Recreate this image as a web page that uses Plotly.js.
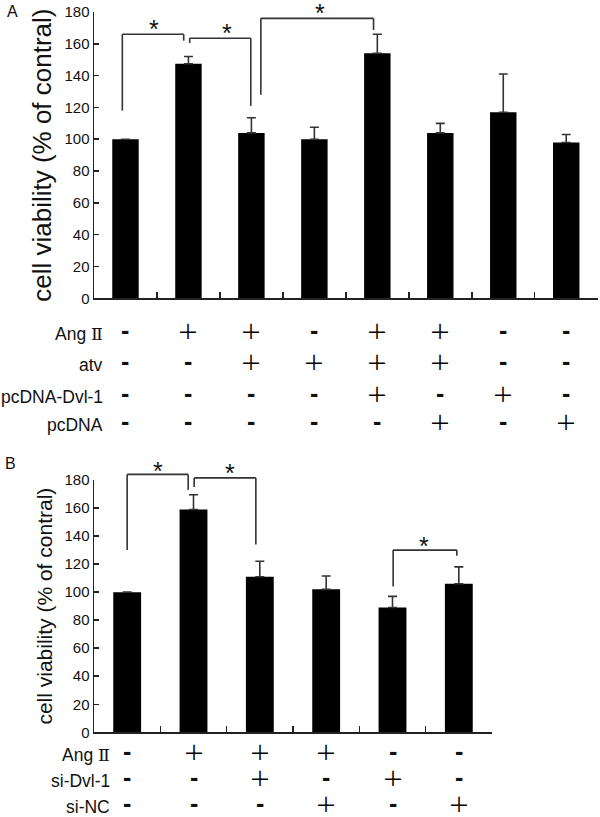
<!DOCTYPE html>
<html>
<head>
<meta charset="utf-8">
<script src="https://cdn.plot.ly/plotly-3.0.1.min.js"></script>
<style>html,body{margin:0;padding:0;background:#fff;}#chart{width:600px;height:817px;}</style>
</head>
<body>
<div id="chart"></div>
<script>
// ---------- Panel A data ----------
var catsA = ['Control', 'Ang II', 'Ang II+atv', 'atv', 'Ang II+atv+pcDNA-Dvl-1', 'Ang II+atv+pcDNA', 'pcDNA-Dvl-1', 'pcDNA'];
var meanA = [100, 147.5, 104, 100, 154, 104, 117, 98];
var errA  = [null, 4.5, 9.5, 7.5, 12, 6, 24, 5];
var rowLabelsA = ['Ang <span style="font-family:\'DejaVu Serif\'">Ⅱ</span>', 'atv', 'pcDNA-Dvl-1', 'pcDNA'];
var signsA = [
  ['-', '+', '+', '-', '+', '+', '-', '-'],
  ['-', '-', '+', '+', '+', '+', '-', '-'],
  ['-', '-', '-', '-', '+', '-', '+', '-'],
  ['-', '-', '-', '-', '-', '+', '-', '+']
];
// significance brackets: [left x, right x, left foot, top, right foot] (x = category index, y = % value)
var bracketsA = [
  [-0.05, 0.925, 118, 166, 162],
  [1.02, 1.99, 160.5, 163.5, 121],
  [2.15, 3.94, 128, 176, 168.7]
];
var starsA = [[0.455, 173], [1.62, 170.5], [3.09, 183]];

// ---------- Panel B data ----------
var catsB = ['Control', 'Ang II', 'Ang II+si-Dvl-1', 'Ang II+si-NC', 'si-Dvl-1', 'si-NC'];
var meanB = [100, 159, 111, 102, 89, 106];
var errB  = [null, 10.5, 11, 9.5, 8, 12];
var rowLabelsB = ['Ang <span style="font-family:\'DejaVu Serif\'">Ⅱ</span>', 'si-Dvl-1', 'si-NC'];
var signsB = [
  ['-', '+', '+', '+', '-', '-'],
  ['-', '-', '+', '-', '+', '-'],
  ['-', '-', '-', '+', '-', '+']
];
var bracketsB = [
  [0.0, 0.92, 130, 184, 173],
  [1.01, 1.94, 175, 181.5, 134],
  [4.01, 4.97, 104, 130, 126]
];
var starsB = [[0.47, 191], [1.55, 189], [4.48, 137]];

var yTicks = [0, 20, 40, 60, 80, 100, 120, 140, 160, 180];
var yMax = 180;

// ---------- layout constants (pixels of a 600 x 817 page) ----------
var W = 600, H = 817;
var FONT = 'Liberation Sans, Arial, sans-serif';
function px(x) { return x / W; }
function py(y) { return 1 - y / H; }
var axisColor = '#222';

function upOnly(arr) { return arr.map(function () { return 0; }); }

var data = [
  {
    type: 'bar', x: catsA, y: meanA, xaxis: 'x', yaxis: 'y', width: 0.42,
    marker: {color: '#000', line: {width: 0}},
    error_y: {type: 'data', array: errA, arrayminus: upOnly(errA), symmetric: false,
              color: '#333', thickness: 1.6, width: 4.5},
    hoverinfo: 'x+y'
  },
  {
    type: 'bar', x: catsB, y: meanB, xaxis: 'x2', yaxis: 'y2', width: 0.42,
    marker: {color: '#000', line: {width: 0}},
    error_y: {type: 'data', array: errB, arrayminus: upOnly(errB), symmetric: false,
              color: '#333', thickness: 1.6, width: 4.5},
    hoverinfo: 'x+y'
  }
];

function xAxis(domain, anchor) {
  return {
    domain: domain, anchor: anchor, type: 'category', tickson: 'boundaries',
    ticks: 'inside', ticklen: 6, tickwidth: 1.5, tickcolor: axisColor,
    showticklabels: false, showline: true, linecolor: axisColor, linewidth: 1.5,
    showgrid: false, zeroline: false, fixedrange: true
  };
}
function yAxis(domain, anchor, titleSize, standoff) {
  return {
    domain: domain, anchor: anchor, range: [0, yMax], tickmode: 'array', tickvals: yTicks,
    ticks: 'inside', ticklen: 5, tickwidth: 1.5, tickcolor: axisColor,
    tickfont: {family: FONT, size: 15, color: '#111'},
    showline: true, linecolor: axisColor, linewidth: 1.5,
    showgrid: false, zeroline: false, fixedrange: true,
    title: {text: 'cell viability (% of contral)', font: {family: FONT, size: titleSize, color: '#111'}, standoff: standoff}
  };
}

var shapes = [];
var annotations = [];

function addBrackets(brs, stars, xr, yr) {
  brs.forEach(function (b) {
    var ln = {color: '#333', width: 1.6};
    shapes.push({type: 'line', xref: xr, yref: yr + ' domain', x0: b[0], x1: b[0], y0: b[2] / yMax, y1: b[3] / yMax, line: ln});
    shapes.push({type: 'line', xref: xr, yref: yr + ' domain', x0: b[0], x1: b[1], y0: b[3] / yMax, y1: b[3] / yMax, line: ln});
    shapes.push({type: 'line', xref: xr, yref: yr + ' domain', x0: b[1], x1: b[1], y0: b[3] / yMax, y1: b[4] / yMax, line: ln});
  });
  stars.forEach(function (s) {
    annotations.push({xref: xr, yref: yr + ' domain', x: s[0], y: s[1] / yMax, text: '*', showarrow: false,
      xanchor: 'center', yanchor: 'middle', yshift: -6, font: {family: FONT, size: 25, color: '#111'}});
  });
}
addBrackets(bracketsA, starsA, 'x', 'y');
addBrackets(bracketsB, starsB, 'x2', 'y2');

function addSignTable(labels, signs, cats, xr, rowY, labelRight, labelDrop) {
  labels.forEach(function (lab, r) {
    annotations.push({xref: 'paper', yref: 'paper', x: px(labelRight), y: py(rowY[r] + labelDrop), xanchor: 'right', yanchor: 'middle',
      height: 20, valign: 'middle',
      text: lab, showarrow: false, font: {family: FONT, size: 17.5, color: '#111'}});
    signs[r].forEach(function (s, c) {
      var plus = s === '+';
      annotations.push({xref: xr, yref: 'paper', x: c, y: py(rowY[r]), xanchor: 'center', yanchor: 'middle',
        height: 18, valign: 'middle',
        showarrow: false, yshift: 1,
        text: plus ? '＋' : '<b>-</b>',
        font: plus ? {family: 'Noto Sans CJK SC, ' + FONT, size: 22, color: '#000'}
                   : {family: FONT, size: 25, color: '#111'}});
    });
  });
}
addSignTable(rowLabelsA, signsA, catsA, 'x', [331, 362, 394, 422], 105, 3);
addSignTable(rowLabelsB, signsB, catsB, 'x2', [752, 778, 804], 112, 3);

annotations.push({xref: 'paper', yref: 'paper', x: px(12), y: py(11), xanchor: 'center', yanchor: 'middle',
  text: 'A', showarrow: false, font: {family: FONT, size: 16, color: '#111'}});
annotations.push({xref: 'paper', yref: 'paper', x: px(10), y: py(463), xanchor: 'center', yanchor: 'middle',
  text: 'B', showarrow: false, font: {family: FONT, size: 16, color: '#111'}});

var layout = {
  width: W, height: H, margin: {l: 0, r: 0, t: 0, b: 0},
  paper_bgcolor: '#fff', plot_bgcolor: '#fff', showlegend: false,
  font: {family: FONT, color: '#111'},
  xaxis: xAxis([px(94), px(597.7)], 'y'),
  yaxis: yAxis([py(298.3), py(12)], 'x', 26, 5),
  xaxis2: xAxis([px(94), px(492)], 'y2'),
  yaxis2: yAxis([py(732.3), py(480)], 'x2', 21, 6),
  shapes: shapes,
  annotations: annotations
};

Plotly.newPlot('chart', data, layout, {displayModeBar: false, staticPlot: true});
</script>
</body>
</html>
